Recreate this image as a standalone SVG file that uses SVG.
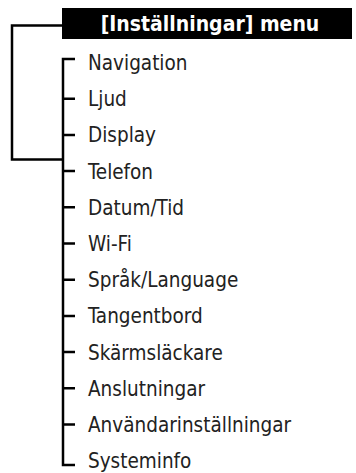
<svg xmlns="http://www.w3.org/2000/svg" width="356" height="473" viewBox="0 0 356 473">
<style>
.ln{fill:none;stroke:#000;stroke-width:2.5;stroke-linecap:butt;stroke-linejoin:miter}
.it{font-family:"DejaVu Sans Condensed","DejaVu Sans",sans-serif;font-stretch:condensed;font-size:20.5px;fill:#222}
.hd{font-family:"DejaVu Sans Condensed","DejaVu Sans",sans-serif;font-stretch:condensed;font-size:21px;font-weight:bold;fill:#fff}
</style>
<rect width="356" height="473" fill="#fff"/>
<g id="connectors">
<path class="ln" d="M62 25.5 H12 V159.5 H63"/>
<path class="ln" d="M75 59 H63 V465 H75"/>
<path class="ln" d="M63 98.7 H75 M63 134.9 H75 M63 171.1 H75 M63 207.3 H75 M63 243.5 H75 M63 279.7 H75 M63 315.9 H75 M63 352.1 H75 M63 388.3 H75 M63 424.5 H75"/>
</g>
<g id="header">
<rect x="62" y="8" width="290" height="31" fill="#000"/>
<text class="hd" x="210" y="31" text-anchor="middle">[Inställningar] menu</text>
</g>
<g id="n1"><text class="it" x="88" y="70">Navigation</text></g>
<g id="n2"><text class="it" x="88" y="106.2">Ljud</text></g>
<g id="n3"><text class="it" x="88" y="142.4">Display</text></g>
<g id="n4"><text class="it" x="88" y="178.6">Telefon</text></g>
<g id="n5"><text class="it" x="88" y="214.8">Datum/Tid</text></g>
<g id="n6"><text class="it" x="88" y="251">Wi-Fi</text></g>
<g id="n7"><text class="it" x="88" y="287.2">Språk/Language</text></g>
<g id="n8"><text class="it" x="88" y="323.4">Tangentbord</text></g>
<g id="n9"><text class="it" x="88" y="359.6">Skärmsläckare</text></g>
<g id="n10"><text class="it" x="88" y="395.8">Anslutningar</text></g>
<g id="n11"><text class="it" x="88" y="432">Användarinställningar</text></g>
<g id="n12"><text class="it" x="88" y="468.2">Systeminfo</text></g>
</svg>
